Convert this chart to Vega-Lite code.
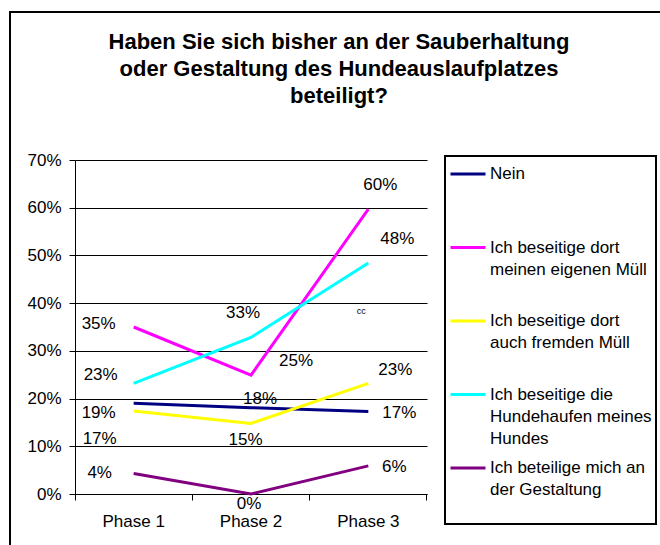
{
  "$schema": "https://vega.github.io/schema/vega-lite/v6.json",
  "autosize": "none",
  "width": 658,
  "height": 540,
  "padding": {"left": 10, "top": 12, "right": 0, "bottom": 0},
  "background": "white",
  "config": {
    "view": {"stroke": "black", "strokeWidth": 2, "fill": "white"},
    "font": "Liberation Sans"
  },
  "title": {
    "text": ["Haben Sie sich bisher an der Sauberhaltung", "oder Gestaltung des Hundeauslaufplatzes", "beteiligt?"],
    "font": "Liberation Sans",
    "fontSize": 22,
    "fontWeight": "bold",
    "lineHeight": 27,
    "anchor": "middle",
    "frame": "group",
    "offset": -96,
    "color": "black"
  },
  "data": {
    "values": [
      {"phase": "Phase 1", "series": "Nein", "value": 0.19},
      {"phase": "Phase 2", "series": "Nein", "value": 0.181},
      {"phase": "Phase 3", "series": "Nein", "value": 0.173},
      {"phase": "Phase 1", "series": "Ich beseitige dort meinen eigenen Müll", "value": 0.35},
      {"phase": "Phase 2", "series": "Ich beseitige dort meinen eigenen Müll", "value": 0.249},
      {"phase": "Phase 3", "series": "Ich beseitige dort meinen eigenen Müll", "value": 0.597},
      {"phase": "Phase 1", "series": "Ich beseitige dort auch fremden Müll", "value": 0.174},
      {"phase": "Phase 2", "series": "Ich beseitige dort auch fremden Müll", "value": 0.148},
      {"phase": "Phase 3", "series": "Ich beseitige dort auch fremden Müll", "value": 0.232},
      {"phase": "Phase 1", "series": "Ich beseitige die Hundehaufen meines Hundes", "value": 0.232},
      {"phase": "Phase 2", "series": "Ich beseitige die Hundehaufen meines Hundes", "value": 0.328},
      {"phase": "Phase 3", "series": "Ich beseitige die Hundehaufen meines Hundes", "value": 0.484},
      {"phase": "Phase 1", "series": "Ich beteilige mich an der Gestaltung", "value": 0.043},
      {"phase": "Phase 2", "series": "Ich beteilige mich an der Gestaltung", "value": 0.0},
      {"phase": "Phase 3", "series": "Ich beteilige mich an der Gestaltung", "value": 0.059}
    ]
  },
  "encoding": {
    "x": {
      "field": "phase",
      "type": "nominal",
      "sort": ["Phase 1", "Phase 2", "Phase 3"],
      "scale": {"type": "band", "range": [65, 417], "paddingInner": 0, "paddingOuter": 0},
      "axis": {
        "title": null,
        "bandPosition": 1,
        "tickExtra": true,
        "offset": -58,
        "grid": false,
        "domainColor": "black",
        "domainWidth": 1,
        "tickColor": "black",
        "tickWidth": 1,
        "tickSize": 6,
        "labelPadding": 13,
        "labelAngle": 0,
        "labelFont": "Liberation Sans",
        "labelFontSize": 17,
        "labelColor": "black"
      }
    },
    "y": {
      "field": "value",
      "type": "quantitative",
      "scale": {"domain": [0, 0.7], "range": [482, 148], "nice": false, "zero": false},
      "axis": {
        "title": null,
        "values": [0, 0.1, 0.2, 0.3, 0.4, 0.5, 0.6, 0.7],
        "format": ".0%",
        "offset": -65,
        "grid": true,
        "gridColor": "black",
        "gridWidth": 1,
        "gridOpacity": 1,
        "domainColor": "black",
        "domainWidth": 1,
        "tickColor": "black",
        "tickWidth": 1,
        "tickSize": 6,
        "labelPadding": 8,
        "labelFont": "Liberation Sans",
        "labelFontSize": 17,
        "labelColor": "black"
      }
    }
  },
  "layer": [
    {
      "data": {"values": [{"phase": "Phase 3"}]},
      "mark": {"type": "rule", "color": "black", "strokeWidth": 1},
      "encoding": {
        "x": {"field": "phase", "type": "nominal", "bandPosition": 1},
        "y": {"datum": 0},
        "y2": {"datum": 0.7}
      }
    },
    {
      "mark": {"type": "line", "strokeWidth": 3},
      "encoding": {
        "color": {
          "field": "series",
          "type": "nominal",
          "scale": {
            "domain": ["Nein", "Ich beseitige dort meinen eigenen Müll", "Ich beseitige dort auch fremden Müll", "Ich beseitige die Hundehaufen meines Hundes", "Ich beteilige mich an der Gestaltung"],
            "range": ["#000080", "#FF00FF", "#FFFF00", "#00FFFF", "#800080"]
          },
          "legend": {
            "title": null,
            "orient": "none",
            "legendX": 435,
            "legendY": 144,
            "direction": "vertical",
            "symbolType": "stroke",
            "symbolSize": 1225,
            "symbolStrokeWidth": 3,
            "clipHeight": 28,
            "labelFont": "Liberation Sans",
            "labelFontSize": 17,
            "labelColor": "black",
            "labelLimit": 400,
            "labelOffset": 3,
            "padding": 4,
            "rowPadding": 7.5,
            "strokeColor": "black",
            "fillColor": "white",
            "cornerRadius": 0,
            "labelExpr": "datum.label == 'Nein' ? ['Nein', '', ''] : datum.label == 'Ich beseitige dort meinen eigenen Müll' ? ['Ich beseitige dort', 'meinen eigenen Müll', ''] : datum.label == 'Ich beseitige dort auch fremden Müll' ? ['Ich beseitige dort', 'auch fremden Müll', ''] : datum.label == 'Ich beseitige die Hundehaufen meines Hundes' ? ['Ich beseitige die', 'Hundehaufen meines', 'Hundes'] : ['Ich beteilige mich an', 'der Gestaltung', '']",
            "encode": {
              "legend": {"update": {"strokeWidth": {"value": 2}}},
              "labels": {"update": {"lineHeight": {"value": 22}}}
            }
          }
        }
      }
    },
    {
      "data": {"values": [{"phase": "Phase 3", "value": 0.384, "t": "cc"}]},
      "mark": {"type": "text", "fontSize": 9, "dx": -7, "color": "black"},
      "encoding": {"text": {"field": "t"}}
    },
    {
      "encoding": {"text": {"field": "value", "type": "quantitative", "format": ".0%"}},
      "layer": [
        {"transform": [{"filter": "datum.series == 'Nein' && datum.phase == 'Phase 1'"}], "mark": {"type": "text", "fontSize": 17, "color": "black", "dx": -35, "dy": 10}},
        {"transform": [{"filter": "datum.series == 'Nein' && datum.phase == 'Phase 2'"}], "mark": {"type": "text", "fontSize": 17, "color": "black", "dx": 9, "dy": -9}},
        {"transform": [{"filter": "datum.series == 'Nein' && datum.phase == 'Phase 3'"}], "mark": {"type": "text", "fontSize": 17, "color": "black", "dx": 31, "dy": 1.5}},
        {"transform": [{"filter": "datum.series == 'Ich beseitige dort meinen eigenen Müll' && datum.phase == 'Phase 1'"}], "mark": {"type": "text", "fontSize": 17, "color": "black", "dx": -35, "dy": -3}},
        {"transform": [{"filter": "datum.series == 'Ich beseitige dort meinen eigenen Müll' && datum.phase == 'Phase 2'"}], "mark": {"type": "text", "fontSize": 17, "color": "black", "dx": 45, "dy": -14.5}},
        {"transform": [{"filter": "datum.series == 'Ich beseitige dort meinen eigenen Müll' && datum.phase == 'Phase 3'"}], "mark": {"type": "text", "fontSize": 17, "color": "black", "dx": 12, "dy": -24}},
        {"transform": [{"filter": "datum.series == 'Ich beseitige dort auch fremden Müll' && datum.phase == 'Phase 1'"}], "mark": {"type": "text", "fontSize": 17, "color": "black", "dx": -34, "dy": 28.5}},
        {"transform": [{"filter": "datum.series == 'Ich beseitige dort auch fremden Müll' && datum.phase == 'Phase 2'"}], "mark": {"type": "text", "fontSize": 17, "color": "black", "dx": -5.5, "dy": 17}},
        {"transform": [{"filter": "datum.series == 'Ich beseitige dort auch fremden Müll' && datum.phase == 'Phase 3'"}], "mark": {"type": "text", "fontSize": 17, "color": "black", "dx": 27, "dy": -13}},
        {"transform": [{"filter": "datum.series == 'Ich beseitige die Hundehaufen meines Hundes' && datum.phase == 'Phase 1'"}], "mark": {"type": "text", "fontSize": 17, "color": "black", "dx": -33, "dy": -8}},
        {"transform": [{"filter": "datum.series == 'Ich beseitige die Hundehaufen meines Hundes' && datum.phase == 'Phase 2'"}], "mark": {"type": "text", "fontSize": 17, "color": "black", "dx": -8, "dy": -24.5}},
        {"transform": [{"filter": "datum.series == 'Ich beseitige die Hundehaufen meines Hundes' && datum.phase == 'Phase 3'"}], "mark": {"type": "text", "fontSize": 17, "color": "black", "dx": 29, "dy": -24.5}},
        {"transform": [{"filter": "datum.series == 'Ich beteilige mich an der Gestaltung' && datum.phase == 'Phase 1'"}], "mark": {"type": "text", "fontSize": 17, "color": "black", "dx": -34, "dy": 0}},
        {"transform": [{"filter": "datum.series == 'Ich beteilige mich an der Gestaltung' && datum.phase == 'Phase 2'"}], "mark": {"type": "text", "fontSize": 17, "color": "black", "dx": -2, "dy": 9.5}},
        {"transform": [{"filter": "datum.series == 'Ich beteilige mich an der Gestaltung' && datum.phase == 'Phase 3'"}], "mark": {"type": "text", "fontSize": 17, "color": "black", "dx": 26, "dy": 1.5}}
      ]
    }
  ]
}
